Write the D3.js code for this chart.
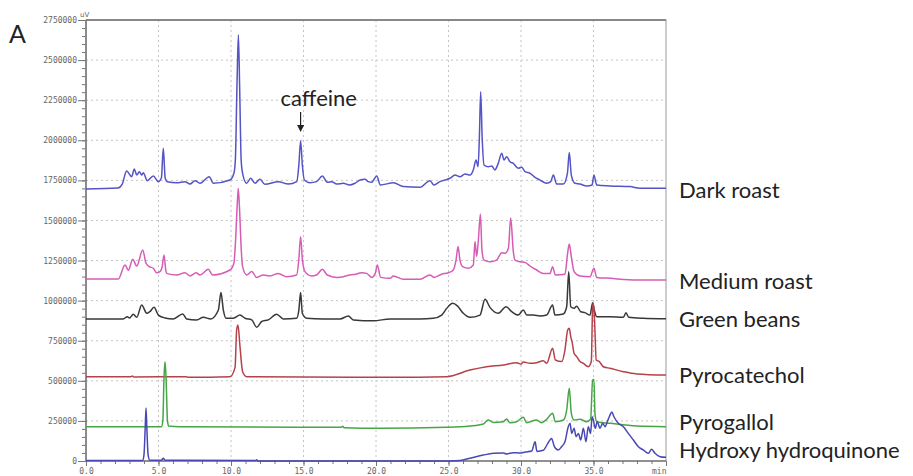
<!DOCTYPE html>
<html>
<head>
<meta charset="utf-8">
<script src="https://cdn.jsdelivr.net/npm/d3@7"></script>
<style>
  body { margin: 0; background: #fff; }
  svg { display: block; }
</style>
</head>
<body>
<svg id="chart"></svg>
<script>
// retention time (min), detector signal (uV)
var darkRoast = [[0,1696000],[2.2,1702000],[2.5,1727000],[2.8,1808000],[3.15,1773000],[3.33,1821000],[3.5,1783000],[3.68,1804000],[3.84,1783000],[3.95,1798000],[4.23,1748000],[4.64,1777000],[4.99,1742000],[5.2,1765000],[5.33,1950000],[5.46,1765000],[5.6,1742000],[6.25,1735000],[6.83,1742000],[7.17,1727000],[7.52,1748000],[7.86,1732000],[8.5,1773000],[8.78,1732000],[9.93,1752000],[10.2,1794000],[10.3,1877000],[10.42,2376000],[10.51,2657000],[10.6,2314000],[10.7,1877000],[10.8,1794000],[11.08,1732000],[11.36,1763000],[11.66,1732000],[12.0,1757000],[12.34,1725000],[13.26,1742000],[13.95,1727000],[14.53,1742000],[14.68,1846000],[14.8,1997000],[14.92,1846000],[15.06,1752000],[15.45,1735000],[15.9,1742000],[16.3,1777000],[16.64,1738000],[16.95,1742000],[17.29,1727000],[17.75,1732000],[18.16,1721000],[18.55,1732000],[18.9,1752000],[19.24,1757000],[19.47,1742000],[19.7,1738000],[20.05,1777000],[20.3,1721000],[21.2,1735000],[21.88,1711000],[23.03,1707000],[23.72,1748000],[24.0,1721000],[24.41,1742000],[24.76,1752000],[25.1,1763000],[25.45,1783000],[25.79,1773000],[26.14,1790000],[26.48,1783000],[26.71,1815000],[26.9,1877000],[27.04,1835000],[27.13,2022000],[27.22,2303000],[27.32,2022000],[27.45,1846000],[27.75,1835000],[27.98,1840000],[28.2,1815000],[28.43,1856000],[28.67,1919000],[28.83,1877000],[29.01,1898000],[29.24,1866000],[29.47,1856000],[29.81,1825000],[30.05,1832000],[30.28,1804000],[30.62,1794000],[30.97,1769000],[31.31,1752000],[31.77,1732000],[32.05,1742000],[32.23,1783000],[32.46,1727000],[32.92,1727000],[33.2,1794000],[33.33,1923000],[33.47,1783000],[33.72,1732000],[34.07,1727000],[34.53,1715000],[34.9,1721000],[35.03,1783000],[35.22,1721000],[36.14,1715000],[37.52,1711000],[38.21,1701000],[40,1701000]];

var mediumRoast = [[0,1135000],[2.23,1135000],[2.69,1222000],[2.92,1190000],[3.22,1258000],[3.5,1216000],[3.91,1316000],[4.14,1233000],[4.37,1212000],[4.64,1202000],[4.87,1174000],[5.1,1181000],[5.25,1210000],[5.38,1285000],[5.5,1190000],[5.56,1170000],[6.25,1160000],[6.83,1174000],[7.17,1154000],[7.59,1174000],[7.86,1160000],[8.43,1195000],[8.73,1160000],[9.93,1191000],[10.2,1233000],[10.3,1350000],[10.42,1580000],[10.5,1700000],[10.6,1550000],[10.7,1330000],[10.8,1212000],[11.08,1160000],[11.43,1181000],[11.77,1145000],[12.23,1160000],[12.69,1154000],[13.26,1170000],[13.84,1149000],[14.53,1160000],[14.68,1260000],[14.8,1399000],[14.92,1260000],[15.1,1181000],[15.56,1154000],[15.9,1160000],[16.3,1195000],[16.64,1160000],[17.29,1145000],[17.75,1149000],[18.2,1160000],[18.6,1165000],[19.0,1174000],[19.35,1170000],[19.7,1145000],[19.95,1170000],[20.09,1222000],[20.32,1145000],[20.97,1139000],[21.2,1154000],[21.88,1133000],[23.03,1133000],[23.72,1160000],[24.0,1145000],[24.53,1165000],[24.99,1174000],[25.33,1191000],[25.52,1253000],[25.66,1337000],[25.79,1253000],[25.98,1212000],[26.37,1202000],[26.71,1222000],[26.83,1368000],[26.94,1275000],[27.06,1378000],[27.2,1540000],[27.31,1310000],[27.45,1253000],[27.86,1243000],[28.32,1253000],[28.67,1299000],[28.9,1295000],[29.13,1326000],[29.29,1515000],[29.47,1306000],[29.59,1253000],[29.93,1243000],[30.3,1237000],[30.62,1216000],[31.08,1191000],[31.54,1170000],[32.0,1170000],[32.18,1212000],[32.37,1160000],[33.03,1165000],[33.22,1299000],[33.33,1353000],[33.47,1275000],[33.66,1181000],[34.07,1154000],[34.76,1149000],[35.03,1202000],[35.22,1145000],[36.14,1139000],[37.98,1129000],[40,1129000]];

var greenBeans = [[0,886000],[2.57,886000],[2.85,900000],[3.0,892000],[3.26,915000],[3.5,896000],[3.84,973000],[4.19,921000],[4.4,931000],[4.69,958000],[4.99,910000],[5.45,892000],[6.02,886000],[6.67,917000],[6.94,886000],[7.63,880000],[8.09,896000],[8.6,886000],[9.13,942000],[9.31,1050000],[9.47,942000],[9.66,890000],[10.16,890000],[10.62,910000],[10.97,890000],[11.43,880000],[11.77,834000],[12.12,870000],[12.57,880000],[13.15,915000],[13.61,886000],[14.53,890000],[14.68,942000],[14.8,1050000],[14.92,921000],[15.22,890000],[16.37,886000],[17.52,886000],[18.09,904000],[18.44,880000],[19.82,874000],[20.97,886000],[21.88,886000],[23.03,886000],[23.95,890000],[24.53,910000],[24.88,952000],[25.29,983000],[25.61,967000],[26.02,921000],[26.48,896000],[27.17,910000],[27.52,1008000],[27.86,958000],[28.43,921000],[28.97,962000],[29.36,931000],[29.81,910000],[30.16,942000],[30.4,910000],[30.85,910000],[31.31,904000],[31.77,910000],[32.18,973000],[32.34,910000],[32.92,917000],[33.15,962000],[33.29,1180000],[33.43,962000],[33.66,952000],[33.84,965000],[34.12,931000],[34.41,925000],[34.76,910000],[34.94,987000],[35.05,942000],[35.22,900000],[36.14,900000],[37.06,896000],[37.24,925000],[37.43,896000],[38.43,890000],[40,887000]];

var pyrocatechol = [[0,526000],[3.1,526000],[3.2,530000],[3.3,524000],[6.9,526000],[7.0,522000],[9.93,526000],[10.28,584000],[10.39,817000],[10.48,848000],[10.62,713000],[10.8,557000],[11.08,526000],[20.97,522000],[24.88,526000],[26.48,567000],[27.63,588000],[28.78,599000],[29.7,613000],[30.0,604000],[30.16,618000],[30.62,609000],[31.08,613000],[31.54,625000],[31.77,609000],[32.18,703000],[32.37,630000],[32.81,620000],[33.03,692000],[33.22,817000],[33.33,828000],[33.43,775000],[33.52,744000],[33.66,672000],[33.84,651000],[34.07,620000],[34.3,609000],[34.64,588000],[34.85,620000],[34.94,962000],[34.99,983000],[35.07,880000],[35.19,630000],[35.4,620000],[35.68,588000],[36.14,578000],[37.06,557000],[37.98,543000],[40,536000]];

var pyrogallol = [[0,214000],[5.2,214000],[5.3,250000],[5.38,520000],[5.45,619000],[5.52,520000],[5.62,250000],[5.7,218000],[6.48,214000],[17.6,210000],[17.7,216000],[17.8,208000],[20.28,204000],[24.88,210000],[26.48,218000],[27.4,231000],[27.74,256000],[28.1,240000],[28.78,245000],[29.01,262000],[29.24,239000],[29.7,245000],[30.16,273000],[30.39,239000],[31.08,256000],[31.43,239000],[31.77,260000],[32.18,297000],[32.37,245000],[32.92,256000],[33.15,318000],[33.33,453000],[33.47,297000],[33.66,256000],[34.07,260000],[34.53,245000],[34.8,260000],[34.94,505000],[35.03,509000],[35.1,297000],[35.22,245000],[36.14,235000],[37.98,218000],[40,214000]];

var hydroxyHydroquinone = [[0,3000],[3.9,3000],[4.0,40000],[4.08,200000],[4.14,330000],[4.2,200000],[4.28,40000],[4.4,5000],[5.2,5000],[5.33,17000],[5.45,5000],[11.7,3000],[11.77,8000],[11.85,0],[25.1,0],[25.8,3000],[26.48,17000],[27.4,37000],[28.1,48000],[28.78,50000],[29.01,44000],[29.47,52000],[29.9,50000],[30.3,56000],[30.74,62000],[30.97,120000],[31.1,60000],[31.54,67000],[31.85,110000],[32.11,141000],[32.3,90000],[32.57,69000],[32.8,89000],[33.03,120000],[33.26,214000],[33.38,235000],[33.5,172000],[33.66,204000],[33.8,152000],[33.96,172000],[34.12,131000],[34.3,204000],[34.48,120000],[34.64,214000],[34.8,172000],[34.9,276000],[34.99,256000],[35.12,204000],[35.26,245000],[35.45,204000],[35.63,235000],[35.8,214000],[35.95,245000],[36.09,276000],[36.26,305000],[36.41,276000],[36.71,235000],[37.06,214000],[37.4,172000],[37.75,131000],[38.1,89000],[38.43,69000],[38.78,48000],[39.01,73000],[39.24,48000],[39.59,27000],[40,23000]];

var seriesNames = ["Dark roast","Medium roast","Green beans","Pyrocatechol","Pyrogallol","Hydroxy hydroquinone"];
var seriesData = [darkRoast, mediumRoast, greenBeans, pyrocatechol, pyrogallol, hydroxyHydroquinone];

var yTicks = d3.range(0, 2750001, 250000);
var yMinorTicks = d3.range(0, 2750001, 50000);
var xTicks = [0, 5, 10, 15, 20, 25, 30, 35, 40];
var xMinorTicks = d3.range(0, 41, 1);
var caffeineTime = 14.8;

// styles and layout
var colors = ["#5454c6","#d65cb6","#383838","#b4424a","#46a646","#4848b6"];
var labelY = [198, 289, 327, 383, 430, 458];

var screen = {width:913, height:476};
var plot = {left:86, right:666, top:20, bottom:461};

var svg = d3.select("#chart")
    .attr("width", screen.width)
    .attr("height", screen.height);

var xScale = d3.scaleLinear().domain([0,40]).range([plot.left, plot.right]);
var yScale = d3.scaleLinear().domain([0,2750000]).range([plot.bottom, plot.top]);

// dotted grid
var grid = svg.append("g");
grid.selectAll("line.v")
    .data(xTicks.filter(function(d){ return d > 0 && d < 40; }))
    .enter().append("line")
    .attr("x1", function(d){ return xScale(d); })
    .attr("x2", function(d){ return xScale(d); })
    .attr("y1", plot.top).attr("y2", plot.bottom)
    .attr("stroke", "#c4c4c4").attr("stroke-dasharray", "2,3");
grid.selectAll("line.h")
    .data(yTicks.filter(function(d){ return d > 0 && d < 2750000; }))
    .enter().append("line")
    .attr("y1", function(d){ return yScale(d); })
    .attr("y2", function(d){ return yScale(d); })
    .attr("x1", plot.left).attr("x2", plot.right)
    .attr("stroke", "#c4c4c4").attr("stroke-dasharray", "2,3");

// axes
var yMinor = svg.append("g")
    .attr("transform", "translate(" + plot.left + ",0)")
    .call(d3.axisLeft(yScale).tickValues(yMinorTicks).tickSize(4).tickFormat(""));
var yAxis = svg.append("g")
    .attr("transform", "translate(" + plot.left + ",0)")
    .call(d3.axisLeft(yScale).tickValues(yTicks).tickSize(8).tickPadding(1)
        .tickFormat(d3.format("d")));
var xMinor = svg.append("g")
    .attr("transform", "translate(0," + plot.bottom + ")")
    .call(d3.axisBottom(xScale).tickValues(xMinorTicks).tickSize(3).tickFormat(""));
var xAxis = svg.append("g")
    .attr("transform", "translate(0," + plot.bottom + ")")
    .call(d3.axisBottom(xScale).tickValues(xTicks).tickSize(5).tickPadding(2)
        .tickFormat(function(d){ return d === 40 ? "min" : d3.format(".1f")(d); }));

[yMinor, yAxis, xMinor, xAxis].forEach(function(g){
    g.select(".domain").remove();
    g.selectAll("line").attr("stroke", "#777");
    g.selectAll("text")
        .attr("fill", "#666")
        .style("font-family", "DejaVu Sans Mono, monospace")
        .style("font-size", "8px");
});
xAxis.selectAll(".tick")
    .filter(function(d){ return d === 40; })
    .select("text").attr("text-anchor", "end").attr("dx", "0");

// frame
svg.append("rect")
    .attr("x", plot.left).attr("y", plot.top)
    .attr("width", plot.right - plot.left).attr("height", plot.bottom - plot.top)
    .attr("fill", "none").attr("stroke", "#999").attr("stroke-width", 1);
svg.append("line")
    .attr("x1", plot.left).attr("x2", plot.right)
    .attr("y1", plot.top).attr("y2", plot.top)
    .attr("stroke", "#888").attr("stroke-width", 2);
svg.append("line")
    .attr("x1", plot.left).attr("x2", plot.left)
    .attr("y1", plot.top).attr("y2", plot.bottom)
    .attr("stroke", "#777").attr("stroke-width", 1.5);
svg.append("line")
    .attr("x1", plot.left).attr("x2", plot.right)
    .attr("y1", plot.bottom).attr("y2", plot.bottom)
    .attr("stroke", "#555").attr("stroke-width", 1.2);

svg.append("text")
    .attr("x", plot.left - 6).attr("y", plot.top - 3)
    .attr("fill", "#666")
    .style("font-family", "DejaVu Sans, sans-serif")
    .style("font-size", "7px")
    .text("uV");

// traces
var line = d3.line()
    .curve(d3.curveMonotoneX)
    .x(function(d){ return xScale(d[0]); })
    .y(function(d){ return yScale(d[1]); });

svg.append("g")
    .selectAll("path")
    .data(seriesData)
    .enter().append("path")
    .attr("d", line)
    .attr("fill", "none")
    .attr("stroke", function(d, i){ return colors[i]; })
    .attr("stroke-width", 1.5)
    .attr("stroke-linejoin", "round");

// trace labels
svg.append("g")
    .selectAll("text")
    .data(seriesNames)
    .enter().append("text")
    .attr("x", 679)
    .attr("y", function(d, i){ return labelY[i]; })
    .attr("fill", "#222")
    .style("font-family", "Lato, sans-serif")
    .style("font-size", "22px")
    .text(function(d){ return d; });

// caffeine marker
var cx = xScale(caffeineTime);
svg.append("text")
    .attr("x", cx - 20).attr("y", 106)
    .attr("fill", "#222")
    .style("font-family", "Lato, sans-serif")
    .style("font-size", "22px")
    .text("caffeine");
svg.append("line")
    .attr("x1", cx).attr("x2", cx)
    .attr("y1", 112).attr("y2", 126)
    .attr("stroke", "#222").attr("stroke-width", 1.2);
svg.append("path")
    .attr("d", "M" + (cx - 3.5) + ",125 L" + (cx + 3.5) + ",125 L" + cx + ",132 Z")
    .attr("fill", "#222");

// panel letter
svg.append("text")
    .attr("x", 9).attr("y", 43)
    .attr("fill", "#222")
    .style("font-family", "Lato, sans-serif")
    .style("font-size", "25px")
    .text("A");
</script>
</body>
</html>
